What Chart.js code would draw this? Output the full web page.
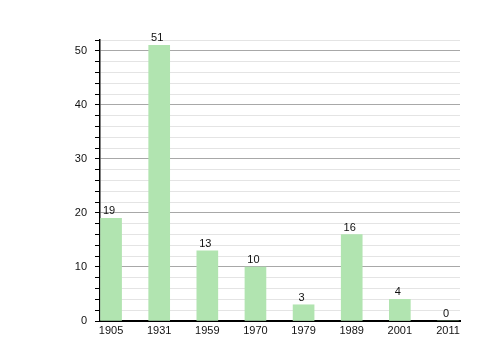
<!DOCTYPE html>
<html>
<head>
<meta charset="utf-8">
<script src="https://cdn.jsdelivr.net/npm/chart.js@4/dist/chart.umd.min.js"></script>
<style>
  html, body { margin: 0; padding: 0; background: #fff; }
  #wrap { width: 500px; height: 360px; }
</style>
</head>
<body>
<div id="wrap"><canvas id="chart"></canvas></div>
<script>
// Population by census year
const years = ['1905', '1931', '1959', '1970', '1979', '1989', '2001', '2011'];
const counts = [19, 51, 13, 10, 3, 16, 4, 0];

const barColor = '#b1e4b0';
const fontFamily = "'Liberation Sans', Arial, sans-serif";

// Value labels above each bar
const valueLabels = {
    id: 'valueLabels',
    afterDatasetsDraw(chart) {
        const ctx = chart.ctx;
        const meta = chart.getDatasetMeta(0);
        ctx.save();
        ctx.font = '11px ' + fontFamily;
        ctx.fillStyle = '#111';
        ctx.textAlign = 'center';
        ctx.textBaseline = 'alphabetic';
        meta.data.forEach((bar, i) => {
            ctx.fillText(String(counts[i]), bar.x - 2, bar.y - 4);
        });
        ctx.restore();
    }
};

new Chart(document.getElementById('chart'), {
    type: 'bar',
    data: {
        datasets: [{
            data: counts.map((v, i) => ({ x: i, y: v })),
            backgroundColor: barColor,
            borderWidth: 0,
            barThickness: 21
        }]
    },
    options: {
        responsive: true,
        maintainAspectRatio: false,
        animation: false,
        layout: {
            padding: { top: 40, right: 40, bottom: 14, left: 0 }
        },
        plugins: {
            legend: { display: false },
            tooltip: { enabled: false }
        },
        scales: {
            x: {
                type: 'linear',
                min: -0.23,
                max: 7.25,
                offset: false,
                afterFit: scale => { scale.height = 25; },
                afterBuildTicks: scale => {
                    scale.ticks = years.map((y, i) => ({ value: i }));
                },
                grid: { display: false, drawTicks: false },
                border: { color: '#000', width: 2 },
                ticks: {
                    padding: 3,
                    autoSkip: false,
                    maxRotation: 0,
                    color: '#111',
                    font: { family: fontFamily, size: 11 },
                    callback: value => years[value]
                }
            },
            y: {
                min: 0,
                max: 52,
                afterFit: scale => { scale.width = 100; },
                border: { color: '#000', width: 1.5 },
                grid: {
                    color: ctx => ctx.tick && ctx.tick.value % 10 === 0 ? '#a8a8a8' : '#e4e4e4',
                    tickColor: '#000',
                    tickLength: 5,
                    lineWidth: 1
                },
                ticks: {
                    stepSize: 2,
                    padding: 8,
                    autoSkip: false,
                    color: '#111',
                    font: { family: fontFamily, size: 11 },
                    callback: value => value % 10 === 0 ? value : ''
                }
            }
        }
    },
    plugins: [valueLabels]
});
</script>
</body>
</html>
